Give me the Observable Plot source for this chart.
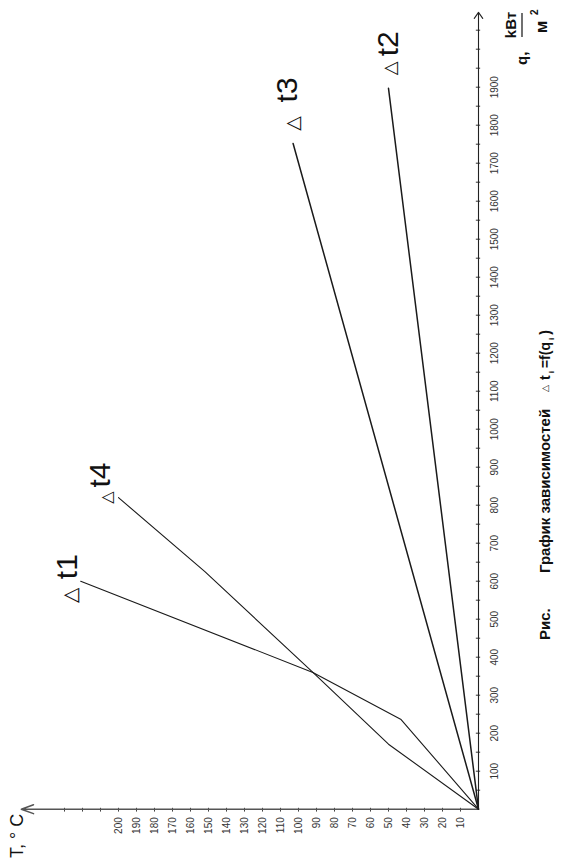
<!DOCTYPE html>
<html><head><meta charset="utf-8">
<script src="https://cdn.jsdelivr.net/npm/d3@7"></script>
<script src="https://cdn.jsdelivr.net/npm/@observablehq/plot@0.6"></script>
<style>
html,body{margin:0;padding:0;background:#fff;}
#page{position:relative;width:578px;height:866px;overflow:hidden;background:#fff}
#rot{position:absolute;left:0;top:0;width:866px;height:578px;transform-origin:0 0;transform:translate(0px,866px) rotate(-90deg)}
</style></head><body>
<div id="page"><div id="rot"></div></div>
<script>
// ---- data (q in kW/m², Δt in °C) ----
const seriesNames = ["t1", "t2", "t3", "t4"];
const t1Q = [0, 236, 360, 600];
const t1T = [0, 43, 92, 221];
const t2Q = [0, 1897];
const t2T = [0, 50];
const t3Q = [0, 1752];
const t3T = [0, 103];
const t4Q = [0, 171, 360, 625, 820];
const t4T = [0, 50, 92, 152, 200];
const qTickLabels = [100,200,300,400,500,600,700,800,900,1000,1100,1200,1300,1400,1500,1600,1700,1800,1900];
const qTicks = d3.range(50, 2051, 50);
const tTickLabels = [10,20,30,40,50,60,70,80,90,100,110,120,130,140,150,160,170,180,190,200];
const tTicks = d3.range(10, 231, 10);
const qAxisEnd = 2097;
const tAxisEnd = 254;

// ---- build table ----
const seriesQ = {t1: t1Q, t2: t2Q, t3: t3Q, t4: t4Q};
const seriesT = {t1: t1T, t2: t2T, t3: t3T, t4: t4T};
const rows = [];
for (const s of seriesNames) seriesQ[s].forEach((q, i) => rows.push({series: s, q, T: seriesT[s][i]}));
const ends = seriesNames.map(s => ({series: s, q: seriesQ[s].at(-1), T: seriesT[s].at(-1)}));

// ---- layout (pixel offsets of the curve labels from the curve ends) ----
const labelOffsets = {
  t1: {tri: [-14, -10], txt: [2, -4], triSize: 20},
  t2: {tri: [20, 2], txt: [32, 9], triSize: 18},
  t3: {tri: [20, 0], txt: [41, 4], triSize: 19},
  t4: {tri: [0, -12], txt: [10, -9], triSize: 16}
};
const widths = {t1: 1.1, t2: 1.5, t3: 1.5, t4: 1.1};

const font = "'Liberation Sans', Arial, sans-serif";
const marks = [
  Plot.ruleX(qTicks, {x: d => d, y1: -1.2, y2: 1.2, stroke: "#333", strokeWidth: 1}),
  Plot.ruleY(tTicks, {y: d => d, x1: -5, x2: 5, stroke: "#444", strokeWidth: 1}),
  Plot.arrow([0], {x1: 0, y1: 0, x2: qAxisEnd, y2: 0, headLength: 10, headAngle: 70, stroke: "#222", strokeWidth: 1.1}),
  Plot.arrow([0], {x1: 0, y1: 0, x2: 0, y2: tAxisEnd, headLength: 13, headAngle: 40, stroke: "#555", strokeWidth: 1.5}),
  Plot.text(qTickLabels, {x: d => d, y: 0, dy: 12, lineAnchor: "top", text: d => String(d), fontSize: 10, fill: "#333"}),
  Plot.text(tTickLabels, {x: 0, y: d => d, dx: -8, textAnchor: "end", text: d => String(d), fontSize: 10, fill: "#333"})
];
for (const s of seriesNames) {
  marks.push(Plot.line(rows.filter(r => r.series === s), {x: "q", y: "T", stroke: "#1a1a1a", strokeWidth: widths[s]}));
}
for (const e of ends) {
  const o = labelOffsets[e.series];
  marks.push(Plot.text([e], {x: "q", y: "T", text: () => "\u25B3", dx: o.tri[0], dy: o.tri[1], fontSize: o.triSize, fontFamily: "'DejaVu Sans', sans-serif", fill: "#111"}));
  marks.push(Plot.text([e], {x: "q", y: "T", text: "series", dx: o.txt[0], dy: o.txt[1], textAnchor: "start", lineAnchor: "bottom", fontSize: 30, fill: "#111"}));
}

const chart = Plot.plot({
  width: 866, height: 578,
  x: {domain: [0, 2000], range: [56.3, 816.3], axis: null},
  y: {domain: [0, 200], range: [478, 118], axis: null},
  style: {fontFamily: font, background: "white", overflow: "visible"},
  marks
});
document.getElementById("rot").appendChild(chart);

// ---- axis titles and caption ----
const svg = d3.select(chart);
const g = svg.append("g").attr("font-family", font).attr("fill", "#111").attr("text-anchor", "start");
g.append("text").attr("x", 8).attr("y", 23).attr("font-size", 18).text("T, ° C");
g.append("text").attr("x", 801).attr("y", 527).attr("font-size", 15).attr("font-weight", "bold").text("q,");
g.append("text").attr("x", 841).attr("y", 516).attr("font-size", 15).attr("font-weight", "bold").attr("text-anchor", "middle").text("kВт");
g.append("line").attr("x1", 829).attr("x2", 853).attr("y1", 522).attr("y2", 522).attr("stroke", "#111").attr("stroke-width", 1.2);
g.append("text").attr("x", 839).attr("y", 547).attr("font-size", 17).attr("font-weight", "bold").attr("text-anchor", "middle").text("м");
g.append("text").attr("x", 851).attr("y", 538).attr("font-size", 10).attr("font-weight", "bold").text("2");

g.append("text").attr("x", 226).attr("y", 550).attr("font-size", 15).attr("font-weight", "bold").text("Рис.");
g.append("text").attr("x", 293).attr("y", 550).attr("font-size", 15).attr("font-weight", "bold").text("График зависимостей");
g.append("text").attr("x", 474).attr("y", 548).attr("font-size", 9).attr("font-family", "'DejaVu Sans', sans-serif").text("\u25B3");
const f = g.append("text").attr("x", 486).attr("y", 550).attr("font-size", 14).attr("font-weight", "bold");
f.append("tspan").text("t");
f.append("tspan").attr("dy", 4).attr("font-size", 8).attr("dx", 2).text("i");
f.append("tspan").attr("dy", -4).attr("dx", 3).text("=f(q");
f.append("tspan").attr("dy", 4).attr("font-size", 8).attr("dx", 2).text("i");
f.append("tspan").attr("dy", -4).attr("dx", 3).text(")");
</script>
</body></html>
